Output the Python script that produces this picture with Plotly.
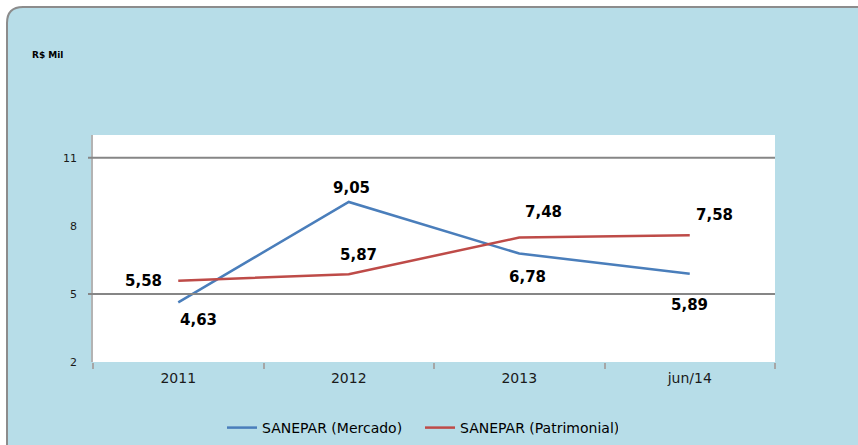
import plotly.graph_objects as go

# ---- data ----
categories = ["2011", "2012", "2013", "jun/14"]
mercado = [4.63, 9.05, 6.78, 5.89]
patrimonial = [5.58, 5.87, 7.48, 7.58]
series_names = ["SANEPAR (Mercado)", "SANEPAR (Patrimonial)"]
y_ticks = [2, 5, 8, 11]
grid_levels = [5, 11]
unit_label = "R$ Mil"

# label offsets (pixels) for the value labels
mercado_shift = [(20, -18), (3, 14), (8, -24), (0, -31)]
patrimonial_shift = [(-35, 0), (10, 19), (24, 26), (25, 20)]

W, H = 858, 445
ML, MR, MT, MB = 93, 83, 135, 83
PW, PH = W - ML - MR, H - MT - MB

def px(x):
    return (x - ML) / PW

def py(y):
    return (H - MB - y) / PH

BLUE = "#4A7EBB"
RED = "#BE4B48"
BG = "#B7DDE8"

fig = go.Figure()
fig.add_trace(go.Scatter(x=categories, y=mercado, mode="lines", name=series_names[0],
                         line=dict(color=BLUE, width=2.5)))
fig.add_trace(go.Scatter(x=categories, y=patrimonial, mode="lines", name=series_names[1],
                         line=dict(color=RED, width=2.5)))

def fmt(v):
    return "<b>" + f"{v:.2f}".replace(".", ",") + "</b>"

annotations = []
for vals, shifts in ((mercado, mercado_shift), (patrimonial, patrimonial_shift)):
    for i, (v, (dx, dy)) in enumerate(zip(vals, shifts)):
        annotations.append(dict(x=i, y=v, xref="x", yref="y", text=fmt(v), showarrow=False,
                                xshift=dx, yshift=dy,
                                font=dict(family="DejaVu Sans", size=15, color="#000000"),
                                xanchor="center", yanchor="middle"))

annotations.append(dict(x=px(30), y=py(55), xref="paper", yref="paper", text="<b>" + unit_label + "</b>",
                        showarrow=False, xanchor="left", yanchor="middle",
                        font=dict(family="DejaVu Sans", size=9, color="#000000")))

# frame: blue panel with rounded top-left corner, white plot area on top of it
r = 16
e = 7
panel_path = (f"M {px(e)},{py(H + 5)} L {px(e)},{py(e + r)} Q {px(e)},{py(e)} {px(e + r)},{py(e)} "
              f"L {px(W + 5)},{py(e)} L {px(W + 5)},{py(H + 5)} Z")
shapes = [
    dict(type="path", xref="paper", yref="paper", path=panel_path,
         fillcolor=BG, line=dict(color="#8C8C8C", width=2), layer="below"),
    dict(type="rect", xref="paper", yref="paper", x0=0, x1=1, y0=0, y1=1,
         fillcolor="white", line=dict(width=0), layer="below"),
]
for g in grid_levels:
    shapes.append(dict(type="line", xref="paper", yref="y", x0=px(88), x1=1, y0=g, y1=g,
                       line=dict(color="#868686", width=2), layer="above"))

fig.update_layout(
    width=W, height=H,
    margin=dict(l=ML, r=MR, t=MT, b=MB, autoexpand=False),
    paper_bgcolor="white", plot_bgcolor="rgba(0,0,0,0)",
    showlegend=True,
    legend=dict(orientation="h", x=px(222), xanchor="left", y=py(444), yanchor="bottom",
                font=dict(family="DejaVu Sans", size=14, color="#000000"),
                bgcolor="rgba(0,0,0,0)", borderwidth=0, itemwidth=30,
                entrywidth=153, entrywidthmode="pixels"),
    annotations=annotations,
    shapes=shapes,
    xaxis=dict(type="category", range=[-0.5, 3.5], showgrid=False, showline=False,
               ticks="outside", tickson="boundaries", ticklen=6, tickcolor="#A6A6A6",
               tickwidth=1.5, ticklabelstandoff=6,
               tickfont=dict(family="DejaVu Sans", size=14, color="#1a1a1a")),
    yaxis=dict(range=[2, 12], tickvals=y_ticks, showgrid=False, zeroline=False,
               showline=True, linecolor="#B3B3B3", linewidth=1.5,
               ticks="", ticklabelstandoff=12,
               tickfont=dict(family="DejaVu Sans", size=11, color="#1a1a1a")),
)

fig.write_html("out.html", config={"displayModeBar": False},
               post_script="document.body.style.margin='0';document.body.style.overflow='hidden';")
